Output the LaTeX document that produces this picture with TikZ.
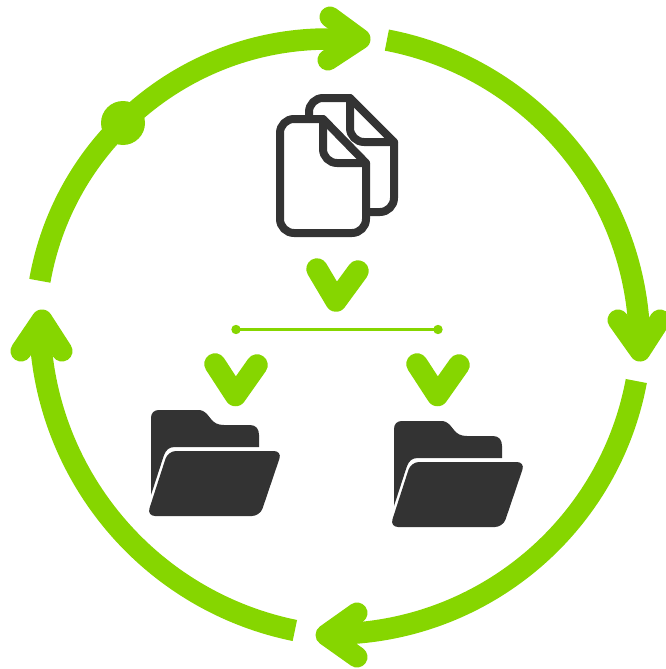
\documentclass[tikz,border=0pt]{standalone}
\definecolor{leaf}{HTML}{86D600}
\definecolor{ink}{HTML}{333333}
\tikzset{
  ring/.style={draw=leaf,line width=21.5pt,line cap=butt},
  head/.style={draw=leaf,fill=leaf,line width=21pt,line join=round,line cap=round},
  vee/.style={draw=leaf,line width=21.5pt,line cap=round,line join=round},
  sheet/.style={draw=ink,line width=8pt,line join=round,line cap=round},
  folder/.pic={
    \fill[ink] (151,495) -- (151,418) .. controls (151,413) and (154,410) .. (159,410) -- (198,410) .. controls (206,410) and (208,416) .. (211,419) .. controls (214,423) and (218,425) .. (224,425) -- (250,425) .. controls (256,425) and (259,429) .. (259,435) -- (259,447) -- (175,447) .. controls (169,447) and (166,450) .. (164,455) -- cycle;
    \fill[ink,rounded corners=8pt] (168,451) -- (282,451) -- (260,516) -- (147,516) -- cycle;
  }
}
\begin{document}
\begin{tikzpicture}[x=1pt,y=-1pt]
\useasboundingbox (0,0) rectangle (665,669);
% ring segments
\coordinate (c1) at (328,331.6);
\coordinate (c2) at (328.6,345.6);
\coordinate (c3) at (331.6,324);
\coordinate (c4) at (358.4,318.2);
\draw[ring] (c1) ++(190:292.6) arc[start angle=190,end angle=273,radius=292.6];
\draw[ring] (c2) ++(280.8:311) arc[start angle=280.8,end angle=357,radius=311];
\draw[ring] (c3) ++(10.6:310) arc[start angle=10.6,end angle=86.7,radius=310];
\draw[ring] (c4) ++(101.5:318.7) arc[start angle=101.5,end angle=177,radius=318.7];
% arrow heads
\draw[head] (330,17) -- (360,39) -- (328,60);
\draw[head] (618,320) -- (640,351) -- (660,320);
\draw[head] (357,613) -- (326,635) -- (357,657);
\draw[head] (21,351) -- (42,320) -- (62,351);
% dot on ring
\fill[leaf] (123,123) circle[radius=22];
% documents
\draw[sheet,rounded corners=14pt] (309,119) -- (309,98) -- (350,98);
\draw[sheet] (350,98) -- (394,142);
\draw[sheet,rounded corners=14pt] (394,142) -- (394,212) -- (370,212);
\draw[sheet,rounded corners=14pt] (350,98) -- (350,142) -- (394,142);
\draw[sheet,rounded corners=14pt] (323,119) -- (280,119) -- (280,233) -- (366,233) -- (366,163);
\draw[sheet] (323,119) -- (366,163);
\draw[sheet,rounded corners=14pt] (323,119) -- (323,163) -- (366,163);
% branch
\draw[vee] (317,269) -- (336,301) -- (358,271);
\draw[leaf,line width=3.2pt] (236,329.5) -- (438,329.5);
\fill[leaf] (236,329.5) circle[radius=4.7] (438,329.5) circle[radius=4.7];
\draw[vee] (215,364) -- (235.5,395.5) -- (257,365);
\draw[vee] (417,364) -- (437.5,395.5) -- (459,365);
% folders
\pic {folder};
\pic[shift={(243,11)}] {folder};
\end{tikzpicture}
\end{document}
